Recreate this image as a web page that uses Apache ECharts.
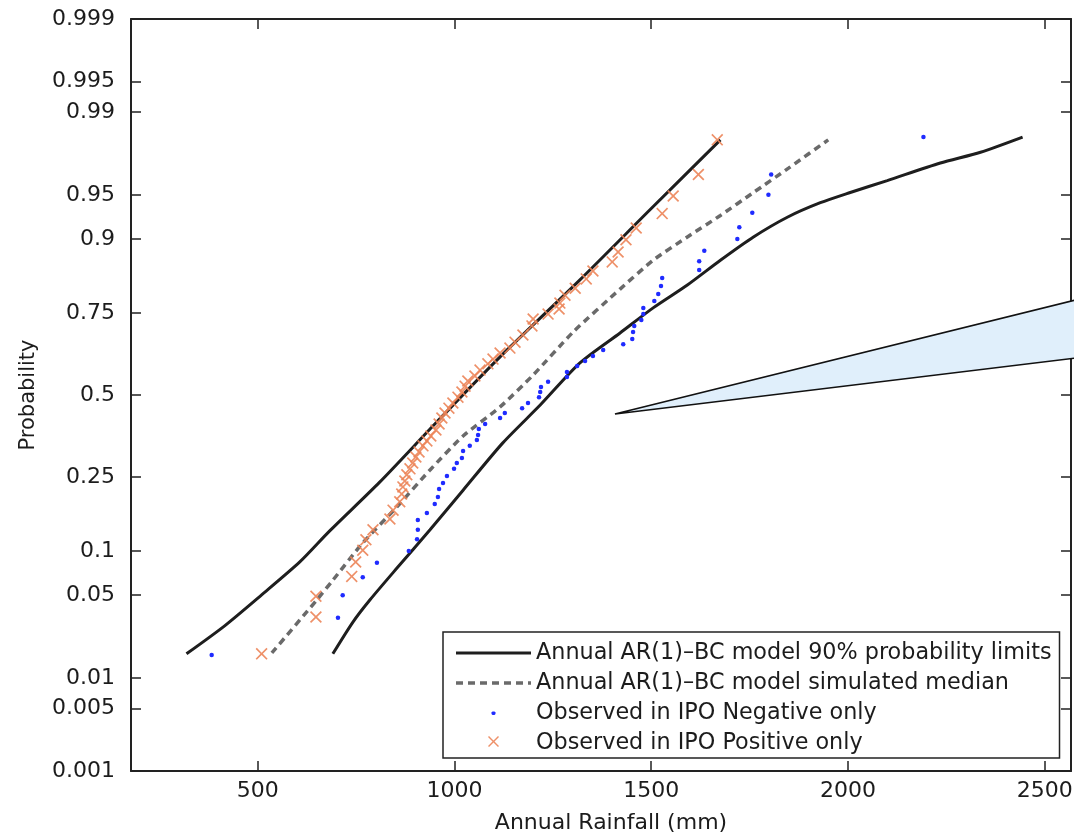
<!DOCTYPE html>
<html>
<head>
<meta charset="utf-8">
<script src="https://cdn.jsdelivr.net/npm/echarts@6/dist/echarts.min.js"></script>
<style>
html,body{margin:0;padding:0;background:#fff;}
#chart{width:1074px;height:837px;}
</style>
</head>
<body>
<div id="chart"></div>
<script>
// ---------- data ----------
const probTicks = [0.001, 0.005, 0.01, 0.05, 0.1, 0.25, 0.5, 0.75, 0.9, 0.95, 0.99, 0.995, 0.999];
const probTickLabels = ['0.001', '0.005', '0.01', '0.05', '0.1', '0.25', '0.5', '0.75', '0.9', '0.95', '0.99', '0.995', '0.999'];
const rainTicks = [500, 1000, 1500, 2000, 2500];
const rainTickLabels = ['500', '1000', '1500', '2000', '2500'];

const upperRain = [319, 416, 510, 607, 683, 810, 955, 1116, 1319, 1497, 1676];
const upperProb = [0.0167, 0.0289, 0.0502, 0.085, 0.132, 0.237, 0.412, 0.623, 0.828, 0.936, 0.982];

const lowerRain = [691, 742, 785, 854, 938, 1022, 1123, 1218, 1319, 1421, 1505, 1592, 1676, 1760, 1846, 1930, 2006, 2100, 2235, 2337, 2444];
const lowerProb = [0.0167, 0.031, 0.046, 0.0775, 0.134, 0.217, 0.347, 0.467, 0.604, 0.695, 0.763, 0.817, 0.866, 0.903, 0.928, 0.943, 0.952, 0.961, 0.9717, 0.977, 0.983];

const medianRain = [536, 650, 691, 767, 854, 938, 1022, 1116, 1200, 1302, 1421, 1505, 1592, 1676, 1760, 1850, 1950];
const medianProb = [0.017, 0.046, 0.064, 0.112, 0.179, 0.269, 0.368, 0.461, 0.565, 0.698, 0.808, 0.866, 0.903, 0.930, 0.952, 0.969, 0.982];

const negRain = [383, 704, 716, 767, 803, 884, 905, 907, 907, 930, 950, 958, 961, 971, 981, 999, 1006, 1019, 1022, 1039,
  1057, 1060, 1062, 1078, 1116, 1128, 1172, 1187, 1215, 1218, 1220, 1238, 1286, 1286, 1312, 1332, 1352, 1378, 1429, 1452,
  1454, 1457, 1475, 1480, 1480, 1508, 1518, 1525, 1528, 1622, 1622, 1635, 1719, 1724, 1757, 1798, 1805, 2192];
const negProb = [0.0163, 0.0335, 0.050, 0.067, 0.084, 0.100, 0.118, 0.134, 0.152, 0.166, 0.185, 0.201, 0.220, 0.235, 0.253, 0.272, 0.288, 0.302, 0.323, 0.338,
  0.356, 0.371, 0.390, 0.406, 0.425, 0.441, 0.457, 0.474, 0.493, 0.510, 0.526, 0.543, 0.559, 0.575, 0.594, 0.610, 0.626, 0.644, 0.662, 0.677,
  0.698, 0.715, 0.731, 0.747, 0.763, 0.780, 0.797, 0.815, 0.832, 0.848, 0.864, 0.882, 0.900, 0.916, 0.933, 0.950, 0.965, 0.983];

const posRain = [510, 648, 648, 739, 749, 767, 775, 793, 836, 844, 861, 866, 869, 874, 879, 887, 894, 902, 910, 920,
  930, 940, 953, 961, 968, 976, 986, 996, 1009, 1019, 1027, 1034, 1052, 1065, 1085, 1098, 1116, 1141, 1154, 1174,
  1197, 1200, 1238, 1266, 1268, 1281, 1307, 1335, 1352, 1401, 1416, 1436, 1462, 1528, 1556, 1620, 1668];
const posProb = [0.0167, 0.034, 0.049, 0.068, 0.085, 0.101, 0.117, 0.134, 0.154, 0.172, 0.190, 0.208, 0.225, 0.240, 0.256, 0.272, 0.288, 0.305, 0.320, 0.338,
  0.353, 0.368, 0.387, 0.406, 0.425, 0.441, 0.457, 0.474, 0.493, 0.510, 0.529, 0.546, 0.562, 0.581, 0.601, 0.616, 0.635, 0.650, 0.668, 0.689,
  0.715, 0.734, 0.747, 0.760, 0.775, 0.794, 0.810, 0.830, 0.846, 0.863, 0.880, 0.899, 0.915, 0.932, 0.949, 0.965, 0.982];

const calloutRain = [1408, 2576, 2576];
const calloutProb = [0.438, 0.782, 0.619];

const nameLimits = 'Annual AR(1)\u2013BC model 90% probability limits';
const nameMedian = 'Annual AR(1)\u2013BC model simulated median';
const nameNeg = 'Observed in IPO Negative only';
const namePos = 'Observed in IPO Positive only';

// ---------- probability (normal) scale helper ----------
function probit(p) {
  const a = [-3.969683028665376e+01, 2.209460984245205e+02, -2.759285104469687e+02, 1.383577518672690e+02, -3.066479806614716e+01, 2.506628277459239e+00];
  const b = [-5.447609879822406e+01, 1.615858368580409e+02, -1.556989798598866e+02, 6.680131188771972e+01, -1.328068155288572e+01];
  const c = [-7.784894002430293e-03, -3.223964580411365e-01, -2.400758277161838e+00, -2.549732539343734e+00, 4.374664141464968e+00, 2.938163982698783e+00];
  const d = [7.784695709041462e-03, 3.224671290700398e-01, 2.445134137142996e+00, 3.754408661907416e+00];
  const pl = 0.02425, ph = 1 - pl;
  let q, r;
  if (p < pl) {
    q = Math.sqrt(-2 * Math.log(p));
    return (((((c[0]*q+c[1])*q+c[2])*q+c[3])*q+c[4])*q+c[5]) / ((((d[0]*q+d[1])*q+d[2])*q+d[3])*q+1);
  } else if (p <= ph) {
    q = p - 0.5; r = q*q;
    return (((((a[0]*r+a[1])*r+a[2])*r+a[3])*r+a[4])*r+a[5])*q / (((((b[0]*r+b[1])*r+b[2])*r+b[3])*r+b[4])*r+1);
  } else {
    q = Math.sqrt(-2 * Math.log(1 - p));
    return -(((((c[0]*q+c[1])*q+c[2])*q+c[3])*q+c[4])*q+c[5]) / ((((d[0]*q+d[1])*q+d[2])*q+d[3])*q+1);
  }
}
const pairs = (xs, ps) => xs.map((x, i) => [x, probit(ps[i])]);
const zTicks = probTicks.map(probit);
function nearestLabel(v, vals, labels) {
  let best = 0, bd = Infinity;
  vals.forEach((z, i) => { const dd = Math.abs(z - v); if (dd < bd) { bd = dd; best = i; } });
  return labels[best];
}

const FONT = 'DejaVu Sans';
const TXT = '#1c1c1c';
const AX = '#222';
const zMin = probit(0.001), zMax = probit(0.999);

const crossIcon = 'path://M0,1 L1,0 L5,4 L9,0 L10,1 L6,5 L10,9 L9,10 L5,6 L1,10 L0,9 L4,5 Z';
// legend icons (75 x 14 frames)
const legendSolid = 'path://M0,0 M75,14 M0,5.5 L75,5.5 L75,8.5 L0,8.5 Z';
let dashPath = 'path://M0,0 M75,14';
for (let s = 0; s < 75; s += 12) { const e = Math.min(s + 7, 75); dashPath += ` M${s},5.3 L${e},5.3 L${e},8.7 L${s},8.7 Z`; }
const legendDashed = dashPath;
const legendDot = 'path://M0,0 M75,14 M36.5,5.5 L38.5,5.5 L39.5,6.5 L39.5,8 L38.5,9 L36.5,9 L35.5,8 L35.5,6.5 Z';
const legendCross = 'path://M0,0 M75,14 M32,1 L33,0 L37.5,4.5 L42,0 L43,1 L38.5,5.5 L43,10 L42,11 L37.5,6.5 L33,11 L32,10 L36.5,5.5 Z';

const chart = echarts.init(document.getElementById('chart'), null, { renderer: 'canvas' });

const baseX = {
  type: 'value', min: 178, max: 2567,
  axisLine: { show: true, onZero: false, lineStyle: { color: AX, width: 2 } },
  axisTick: { show: true, inside: true, length: 10, customValues: rainTicks, lineStyle: { color: AX, width: 1.5 } },
  splitLine: { show: false }
};
const baseY = {
  type: 'value', min: zMin, max: zMax,
  axisLine: { show: true, onZero: false, lineStyle: { color: AX, width: 2 } },
  axisTick: { show: true, inside: true, length: 10, customValues: zTicks, lineStyle: { color: AX, width: 1.5 } },
  splitLine: { show: false }
};

chart.setOption({
  animation: false,
  backgroundColor: '#fff',
  textStyle: { fontFamily: FONT },
  grid: { left: 131, right: 3, top: 19, bottom: 66, containLabel: false, outerBoundsMode: 'none' },
  xAxis: [
    Object.assign({}, baseX, {
      position: 'bottom',
      axisLabel: { show: true, customValues: rainTicks, margin: 9, color: TXT, fontSize: 22, fontFamily: FONT,
        formatter: v => nearestLabel(v, rainTicks, rainTickLabels) },
      name: 'Annual Rainfall (mm)', nameLocation: 'middle', nameGap: 41,
      nameTextStyle: { color: TXT, fontSize: 22, fontFamily: FONT, padding: [0, 0, 0, 20] }
    }),
    Object.assign({}, baseX, { position: 'top', axisLabel: { show: false } })
  ],
  yAxis: [
    Object.assign({}, baseY, {
      position: 'left',
      axisLabel: { show: true, customValues: zTicks, margin: 16, color: TXT, fontSize: 22, fontFamily: FONT,
        formatter: v => nearestLabel(v, zTicks, probTickLabels) },
      name: 'Probability', nameLocation: 'middle', nameGap: 92, nameRotate: 90,
      nameTextStyle: { color: TXT, fontSize: 21, fontFamily: FONT }
    }),
    Object.assign({}, baseY, { position: 'right', axisLabel: { show: false } })
  ],
  legend: {
    show: true, orient: 'vertical', left: 443, top: 632,
    backgroundColor: '#fff', borderColor: '#222', borderWidth: 1.5,
    padding: [9, 8, 3, 13], itemGap: 6, itemWidth: 75, itemHeight: 14,
    textStyle: { color: TXT, fontSize: 22.3, fontFamily: FONT, lineHeight: 24 },
    data: [
      { name: nameLimits, icon: legendSolid, itemStyle: { color: '#1e1e1e' } },
      { name: nameMedian, icon: legendDashed, itemStyle: { color: '#6a6a6a' } },
      { name: nameNeg, icon: legendDot },
      { name: namePos, icon: legendCross }
    ]
  },
  series: [
    {
      type: 'custom', name: 'callout', silent: true, clip: false, z: 1,
      data: [[calloutRain[0], probit(calloutProb[0])]],
      renderItem: function (params, api) {
        const pts = calloutRain.map((r, i) => api.coord([r, probit(calloutProb[i])]));
        return {
          type: 'group', children: [
            { type: 'polygon', shape: { points: pts }, style: { fill: '#e0effb', stroke: null } },
            { type: 'polyline', shape: { points: [pts[1], pts[0], pts[2]] }, style: { fill: null, stroke: '#111', lineWidth: 1.6 } }
          ]
        };
      }
    },
    {
      type: 'line', name: nameLimits, data: pairs(upperRain, upperProb), showSymbol: false, symbol: 'none',
      smooth: 0.25, lineStyle: { color: '#1e1e1e', width: 3 }, itemStyle: { color: '#1e1e1e' }, z: 3
    },
    {
      type: 'line', name: nameLimits, data: pairs(lowerRain, lowerProb), showSymbol: false, symbol: 'none',
      smooth: 0.25, lineStyle: { color: '#1e1e1e', width: 3 }, itemStyle: { color: '#1e1e1e' }, z: 3
    },
    {
      type: 'line', name: nameMedian, data: pairs(medianRain, medianProb), showSymbol: false, symbol: 'none',
      smooth: 0.2, lineStyle: { color: '#6a6a6a', width: 3.5, type: [7, 5] }, itemStyle: { color: '#6a6a6a' }, z: 3
    },
    {
      type: 'scatter', name: nameNeg, data: pairs(negRain, negProb), symbol: 'circle', symbolSize: 4.5,
      itemStyle: { color: '#1f2bff', opacity: 1 }, z: 4
    },
    {
      type: 'scatter', name: namePos, data: pairs(posRain, posProb), symbol: crossIcon, symbolSize: 12,
      itemStyle: { color: '#ec8458', opacity: 0.9 }, z: 4
    }
  ]
});
</script>
</body>
</html>
